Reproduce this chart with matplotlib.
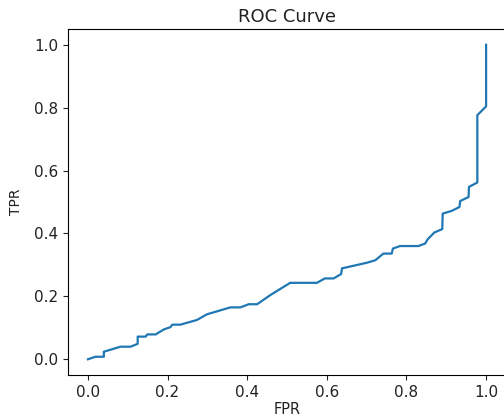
import matplotlib
matplotlib.use("Agg")
import matplotlib.pyplot as plt

fpr = [0.0, 0.019, 0.040, 0.040, 0.082, 0.107, 0.125, 0.125, 0.145, 0.149, 0.170,
       0.191, 0.207, 0.212, 0.232, 0.274, 0.299, 0.358, 0.383, 0.404, 0.425,
       0.458, 0.508, 0.575, 0.595, 0.617, 0.636, 0.638, 0.701, 0.722, 0.742,
       0.763, 0.766, 0.784, 0.830, 0.847, 0.853, 0.870, 0.890, 0.891, 0.914,
       0.933, 0.935, 0.956, 0.957, 0.978, 0.978, 1.0, 1.0]
tpr = [0.0, 0.008, 0.008, 0.024, 0.040, 0.040, 0.049, 0.072, 0.072, 0.079, 0.079,
       0.095, 0.102, 0.110, 0.110, 0.125, 0.143, 0.165, 0.165, 0.175, 0.175,
       0.204, 0.243, 0.243, 0.257, 0.257, 0.271, 0.289, 0.307, 0.315, 0.336,
       0.336, 0.352, 0.360, 0.360, 0.368, 0.381, 0.403, 0.414, 0.463, 0.472,
       0.484, 0.503, 0.516, 0.548, 0.562, 0.776, 0.804, 1.0]
ticks = [0.0, 0.2, 0.4, 0.6, 0.8, 1.0]

fig = plt.figure(figsize=(5.04, 4.17), dpi=100)
ax = fig.add_axes([68/504, 42/417, 438/504, 346/417])
ax.plot(fpr, tpr, color="#1f77b4", lw=1.6)
ax.set_xlim(-0.05, 1.05)
ax.set_ylim(-0.05, 1.05)
ax.set_xticks(ticks)
ax.set_yticks(ticks)
ax.tick_params(labelsize=11, colors="#222222", labelcolor="#222222")
ax.set_title("ROC Curve", fontsize=13, color="#222222", pad=5)
ax.set_xlabel("FPR", fontsize=10.5, color="#222222", labelpad=2)
ax.set_ylabel("TPR", fontsize=10, color="#222222", labelpad=8)
fig.savefig("out.png", dpi=100)
